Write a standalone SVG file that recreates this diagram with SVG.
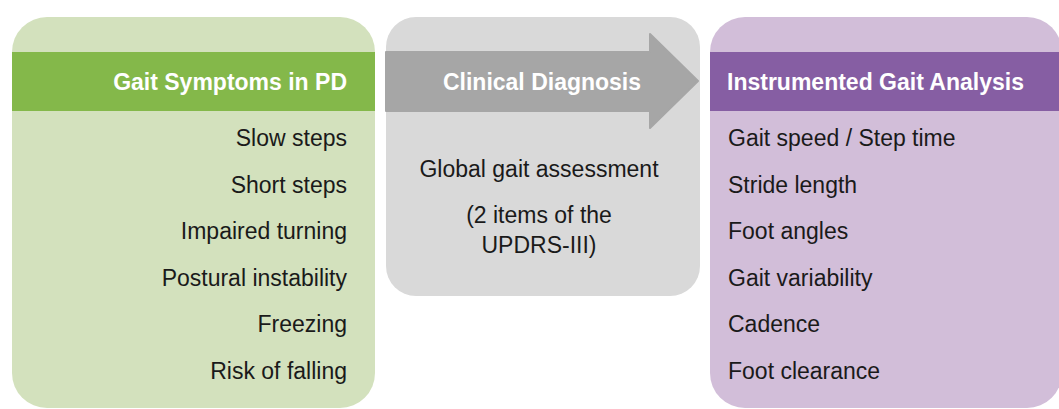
<svg xmlns="http://www.w3.org/2000/svg" width="1059" height="409" viewBox="0 0 1059 409">
<style>
.hdr{font-family:"Liberation Sans",Arial,sans-serif;font-size:23px;font-weight:bold;fill:#ffffff}
.item{font-family:"Liberation Sans",Arial,sans-serif;font-size:23px;fill:#1a1a1a}
.r{text-anchor:end}
.c{text-anchor:middle}
</style>
<rect width="1059" height="409" fill="#ffffff"/>
<g id="symptoms">
<rect x="12" y="17" width="363" height="391" rx="35" ry="35" fill="#d3e1bd"/>
<rect x="12" y="52" width="363" height="59" fill="#84b84a"/>
<text class="hdr r" x="347" y="90">Gait Symptoms in PD</text>
<text class="item r" x="347" y="146">Slow steps</text>
<text class="item r" x="347" y="192.5">Short steps</text>
<text class="item r" x="347" y="239">Impaired turning</text>
<text class="item r" x="347" y="285.5">Postural instability</text>
<text class="item r" x="347" y="332">Freezing</text>
<text class="item r" x="347" y="378.5">Risk of falling</text>
</g>
<g id="diagnosis">
<rect x="386" y="17" width="314" height="279" rx="30" ry="30" fill="#d9d9d9"/>
<polygon points="386,52 650,52 650,34 698,81 650,128 650,111 386,111" fill="#a6a6a6" stroke="#a6a6a6" stroke-width="2" stroke-linejoin="round"/>
<text class="hdr c" x="542" y="90">Clinical Diagnosis</text>
<text class="item c" x="539" y="177">Global gait assessment</text>
<text class="item c" x="539" y="223">(2 items of the</text>
<text class="item c" x="539" y="253">UPDRS-III)</text>
</g>
<g id="analysis">
<rect x="710" y="17" width="352" height="391" rx="35" ry="35" fill="#d2bed9"/>
<rect x="710" y="52" width="349" height="59" fill="#865ea3"/>
<text class="hdr" x="727" y="90">Instrumented Gait Analysis</text>
<text class="item" x="728" y="146">Gait speed / Step time</text>
<text class="item" x="728" y="192.5">Stride length</text>
<text class="item" x="728" y="239">Foot angles</text>
<text class="item" x="728" y="285.5">Gait variability</text>
<text class="item" x="728" y="332">Cadence</text>
<text class="item" x="728" y="378.5">Foot clearance</text>
</g>
<g id="connectors"></g>
</svg>
